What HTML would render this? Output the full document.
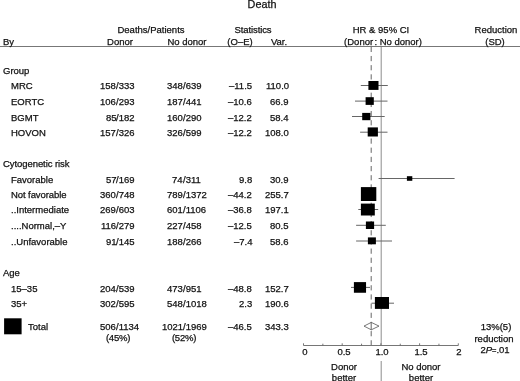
<!DOCTYPE html>
<html><head><meta charset="utf-8"><style>
html,body{margin:0;padding:0;background:#fff;}
body{-webkit-font-smoothing:antialiased;width:520px;height:381px;position:relative;overflow:hidden;font-family:"Liberation Sans",sans-serif;color:#111;-webkit-text-stroke:0.25px #111;}
.t{position:absolute;line-height:1;white-space:nowrap;will-change:transform;}
svg{position:absolute;left:0;top:0;}
.hl{stroke:#777;stroke-width:1;}
.ax{stroke:#666;stroke-width:0.9;}
.vl{stroke:#707070;stroke-width:0.8;}
.dl{stroke:#555;stroke-width:0.9;stroke-dasharray:5.2 3.97;}
.ci{stroke:#666;stroke-width:1;}
</style></head><body>
<svg width="520" height="381" viewBox="0 0 520 381">
<line x1="0" y1="46.5" x2="520" y2="46.5" class="hl"/>
<line x1="303.5" y1="345.5" x2="458.3" y2="345.5" class="ax"/>
<line x1="381.2" y1="46.5" x2="381.2" y2="345" class="vl"/>
<line x1="381.2" y1="361" x2="381.2" y2="381" class="vl"/>
<line x1="371.2" y1="46.8" x2="371.2" y2="345" class="dl"/>
<line x1="360.8" y1="85.5" x2="387.8" y2="85.5" class="ci"/>
<rect x="368.4" y="81.0" width="10.10" height="8.90" fill="#000"/>
<line x1="355.0" y1="101.1" x2="387.5" y2="101.1" class="ci"/>
<rect x="365.6" y="97.2" width="8.20" height="7.70" fill="#000"/>
<line x1="352.0" y1="116.5" x2="384.7" y2="116.5" class="ci"/>
<rect x="362.2" y="112.9" width="8.20" height="7.30" fill="#000"/>
<line x1="360.1" y1="132.2" x2="387.5" y2="132.2" class="ci"/>
<rect x="367.7" y="127.4" width="10.20" height="9.10" fill="#000"/>
<line x1="378.6" y1="178.5" x2="454.6" y2="178.5" class="ci"/>
<rect x="406.9" y="176.2" width="5.40" height="4.60" fill="#000"/>
<rect x="360.9" y="187.1" width="15.40" height="13.90" fill="#000"/>
<line x1="358.3" y1="209.5" x2="378.2" y2="209.5" class="ci"/>
<rect x="360.9" y="203.6" width="13.90" height="11.90" fill="#000"/>
<line x1="356.1" y1="225.3" x2="385.8" y2="225.3" class="ci"/>
<rect x="365.9" y="221.5" width="8.20" height="7.50" fill="#000"/>
<line x1="356.1" y1="241.0" x2="392.0" y2="241.0" class="ci"/>
<rect x="367.9" y="237.4" width="8.00" height="6.90" fill="#000"/>
<line x1="351.0" y1="287.4" x2="370.0" y2="287.4" class="ci"/>
<rect x="353.9" y="282.1" width="12.15" height="10.65" fill="#000"/>
<line x1="371.5" y1="303.2" x2="394.0" y2="303.2" class="ci"/>
<rect x="374.9" y="297.0" width="14.10" height="11.90" fill="#000"/>
<rect x="4.1" y="318.3" width="17.5" height="16" fill="#000"/>
<polygon points="364.0,326.1 371.3,322.4 379.0,326.1 371.3,329.8" fill="#fff" stroke="#555" stroke-width="0.8"/>
<line x1="371.2" y1="322.4" x2="371.2" y2="329.8" stroke="#555" stroke-width="0.9"/>
<line x1="303.50" y1="343.3" x2="303.50" y2="345.5" class="ax"/>
<line x1="322.85" y1="343.7" x2="322.85" y2="345.5" class="ax"/>
<line x1="342.20" y1="343.3" x2="342.20" y2="345.5" class="ax"/>
<line x1="361.55" y1="343.7" x2="361.55" y2="345.5" class="ax"/>
<line x1="380.90" y1="343.3" x2="380.90" y2="345.5" class="ax"/>
<line x1="400.25" y1="343.7" x2="400.25" y2="345.5" class="ax"/>
<line x1="419.60" y1="343.3" x2="419.60" y2="345.5" class="ax"/>
<line x1="438.95" y1="343.7" x2="438.95" y2="345.5" class="ax"/>
<line x1="458.30" y1="343.3" x2="458.30" y2="345.5" class="ax"/>
</svg>
<div class="t" style="left:161.90px;width:200px;top:-1.39px;font-size:10.8px;text-align:center;">Death</div>
<div class="t" style="left:51.15px;width:200px;top:24.66px;font-size:9.5px;text-align:center;">Deaths/Patients</div>
<div class="t" style="left:153.20px;width:200px;top:24.66px;font-size:9.5px;text-align:center;letter-spacing:-0.1px">Statistics</div>
<div class="t" style="left:281.00px;width:200px;top:24.66px;font-size:9.5px;text-align:center;">HR &amp; 95% CI</div>
<div class="t" style="left:395.60px;width:200px;top:24.66px;font-size:9.5px;text-align:center;">Reduction</div>
<div class="t" style="left:3.00px;top:36.76px;font-size:9.5px;">By</div>
<div class="t" style="left:19.50px;width:200px;top:36.76px;font-size:9.5px;text-align:center;">Donor</div>
<div class="t" style="left:86.50px;width:200px;top:36.76px;font-size:9.5px;text-align:center;">No donor</div>
<div class="t" style="left:139.50px;width:200px;top:36.76px;font-size:9.5px;text-align:center;">(O&ndash;E)</div>
<div class="t" style="left:179.40px;width:200px;top:36.76px;font-size:9.5px;text-align:center;">Var.</div>
<div class="t" style="left:282.50px;width:200px;top:36.76px;font-size:9.5px;text-align:center;">(Donor<span style="margin-left:-1.4px"> </span>: No donor)</div>
<div class="t" style="left:395.40px;width:200px;top:36.76px;font-size:9.5px;text-align:center;">(SD)</div>
<div class="t" style="left:3.20px;top:65.96px;font-size:9.5px;">Group</div>
<div class="t" style="left:11.00px;top:80.96px;font-size:9.5px;">MRC</div>
<div class="t" style="right:403.80px;top:80.96px;font-size:9.5px;text-align:right;">158</div><div class="t" style="left:116.20px;top:80.96px;font-size:9.5px;">/333</div>
<div class="t" style="right:337.00px;top:80.96px;font-size:9.5px;text-align:right;">348</div><div class="t" style="left:183.00px;top:80.96px;font-size:9.5px;">/639</div>
<div class="t" style="right:268.00px;top:80.96px;font-size:9.5px;text-align:right;">&ndash;11.5</div>
<div class="t" style="right:231.30px;top:80.96px;font-size:9.5px;text-align:right;">110.0</div>
<div class="t" style="left:11.00px;top:96.96px;font-size:9.5px;">EORTC</div>
<div class="t" style="right:403.80px;top:96.96px;font-size:9.5px;text-align:right;">106</div><div class="t" style="left:116.20px;top:96.96px;font-size:9.5px;">/293</div>
<div class="t" style="right:337.00px;top:96.96px;font-size:9.5px;text-align:right;">187</div><div class="t" style="left:183.00px;top:96.96px;font-size:9.5px;">/441</div>
<div class="t" style="right:268.00px;top:96.96px;font-size:9.5px;text-align:right;">&ndash;10.6</div>
<div class="t" style="right:231.30px;top:96.96px;font-size:9.5px;text-align:right;">66.9</div>
<div class="t" style="left:11.00px;top:112.96px;font-size:9.5px;">BGMT</div>
<div class="t" style="right:403.80px;top:112.96px;font-size:9.5px;text-align:right;">85</div><div class="t" style="left:116.20px;top:112.96px;font-size:9.5px;">/182</div>
<div class="t" style="right:337.00px;top:112.96px;font-size:9.5px;text-align:right;">160</div><div class="t" style="left:183.00px;top:112.96px;font-size:9.5px;">/290</div>
<div class="t" style="right:268.00px;top:112.96px;font-size:9.5px;text-align:right;">&ndash;12.2</div>
<div class="t" style="right:231.30px;top:112.96px;font-size:9.5px;text-align:right;">58.4</div>
<div class="t" style="left:11.00px;top:127.96px;font-size:9.5px;">HOVON</div>
<div class="t" style="right:403.80px;top:127.96px;font-size:9.5px;text-align:right;">157</div><div class="t" style="left:116.20px;top:127.96px;font-size:9.5px;">/326</div>
<div class="t" style="right:337.00px;top:127.96px;font-size:9.5px;text-align:right;">326</div><div class="t" style="left:183.00px;top:127.96px;font-size:9.5px;">/599</div>
<div class="t" style="right:268.00px;top:127.96px;font-size:9.5px;text-align:right;">&ndash;12.2</div>
<div class="t" style="right:231.30px;top:127.96px;font-size:9.5px;text-align:right;">108.0</div>
<div class="t" style="left:3.20px;top:158.96px;font-size:9.5px;letter-spacing:-0.07px">Cytogenetic risk</div>
<div class="t" style="left:11.00px;top:174.96px;font-size:9.5px;">Favorable</div>
<div class="t" style="right:403.80px;top:174.96px;font-size:9.5px;text-align:right;">57</div><div class="t" style="left:116.20px;top:174.96px;font-size:9.5px;">/169</div>
<div class="t" style="right:337.00px;top:174.96px;font-size:9.5px;text-align:right;">74</div><div class="t" style="left:183.00px;top:174.96px;font-size:9.5px;">/311</div>
<div class="t" style="right:268.00px;top:174.96px;font-size:9.5px;text-align:right;">9.8</div>
<div class="t" style="right:231.30px;top:174.96px;font-size:9.5px;text-align:right;">30.9</div>
<div class="t" style="left:11.00px;top:189.96px;font-size:9.5px;letter-spacing:-0.08px">Not favorable</div>
<div class="t" style="right:403.80px;top:189.96px;font-size:9.5px;text-align:right;">360</div><div class="t" style="left:116.20px;top:189.96px;font-size:9.5px;">/748</div>
<div class="t" style="right:337.00px;top:189.96px;font-size:9.5px;text-align:right;">789</div><div class="t" style="left:183.00px;top:189.96px;font-size:9.5px;">/1372</div>
<div class="t" style="right:268.00px;top:189.96px;font-size:9.5px;text-align:right;">&ndash;44.2</div>
<div class="t" style="right:231.30px;top:189.96px;font-size:9.5px;text-align:right;">255.7</div>
<div class="t" style="left:11.00px;top:204.96px;font-size:9.5px;">..Intermediate</div>
<div class="t" style="right:403.80px;top:204.96px;font-size:9.5px;text-align:right;">269</div><div class="t" style="left:116.20px;top:204.96px;font-size:9.5px;">/603</div>
<div class="t" style="right:337.00px;top:204.96px;font-size:9.5px;text-align:right;">601</div><div class="t" style="left:183.00px;top:204.96px;font-size:9.5px;">/1106</div>
<div class="t" style="right:268.00px;top:204.96px;font-size:9.5px;text-align:right;">&ndash;36.8</div>
<div class="t" style="right:231.30px;top:204.96px;font-size:9.5px;text-align:right;">197.1</div>
<div class="t" style="left:11.00px;top:220.96px;font-size:9.5px;">....Normal,&ndash;Y</div>
<div class="t" style="right:403.80px;top:220.96px;font-size:9.5px;text-align:right;">116</div><div class="t" style="left:116.20px;top:220.96px;font-size:9.5px;">/279</div>
<div class="t" style="right:337.00px;top:220.96px;font-size:9.5px;text-align:right;">227</div><div class="t" style="left:183.00px;top:220.96px;font-size:9.5px;">/458</div>
<div class="t" style="right:268.00px;top:220.96px;font-size:9.5px;text-align:right;">&ndash;12.5</div>
<div class="t" style="right:231.30px;top:220.96px;font-size:9.5px;text-align:right;">80.5</div>
<div class="t" style="left:11.00px;top:236.96px;font-size:9.5px;">..Unfavorable</div>
<div class="t" style="right:403.80px;top:236.96px;font-size:9.5px;text-align:right;">91</div><div class="t" style="left:116.20px;top:236.96px;font-size:9.5px;">/145</div>
<div class="t" style="right:337.00px;top:236.96px;font-size:9.5px;text-align:right;">188</div><div class="t" style="left:183.00px;top:236.96px;font-size:9.5px;">/266</div>
<div class="t" style="right:268.00px;top:236.96px;font-size:9.5px;text-align:right;">&ndash;7.4</div>
<div class="t" style="right:231.30px;top:236.96px;font-size:9.5px;text-align:right;">58.6</div>
<div class="t" style="left:3.20px;top:267.96px;font-size:9.5px;">Age</div>
<div class="t" style="left:11.00px;top:283.96px;font-size:9.5px;">15&ndash;35</div>
<div class="t" style="right:403.80px;top:283.96px;font-size:9.5px;text-align:right;">204</div><div class="t" style="left:116.20px;top:283.96px;font-size:9.5px;">/539</div>
<div class="t" style="right:337.00px;top:283.96px;font-size:9.5px;text-align:right;">473</div><div class="t" style="left:183.00px;top:283.96px;font-size:9.5px;">/951</div>
<div class="t" style="right:268.00px;top:283.96px;font-size:9.5px;text-align:right;">&ndash;48.8</div>
<div class="t" style="right:231.30px;top:283.96px;font-size:9.5px;text-align:right;">152.7</div>
<div class="t" style="left:11.00px;top:298.96px;font-size:9.5px;">35+</div>
<div class="t" style="right:403.80px;top:298.96px;font-size:9.5px;text-align:right;">302</div><div class="t" style="left:116.20px;top:298.96px;font-size:9.5px;">/595</div>
<div class="t" style="right:337.00px;top:298.96px;font-size:9.5px;text-align:right;">548</div><div class="t" style="left:183.00px;top:298.96px;font-size:9.5px;">/1018</div>
<div class="t" style="right:268.00px;top:298.96px;font-size:9.5px;text-align:right;">2.3</div>
<div class="t" style="right:231.30px;top:298.96px;font-size:9.5px;text-align:right;">190.6</div>
<div class="t" style="left:28.00px;top:321.96px;font-size:9.5px;">Total</div>
<div class="t" style="right:403.80px;top:321.96px;font-size:9.5px;text-align:right;">506</div><div class="t" style="left:116.20px;top:321.96px;font-size:9.5px;">/1134</div>
<div class="t" style="right:337.00px;top:321.96px;font-size:9.5px;text-align:right;">1021</div><div class="t" style="left:183.00px;top:321.96px;font-size:9.5px;">/1969</div>
<div class="t" style="left:17.60px;width:200px;top:333.46px;font-size:9.5px;text-align:center;letter-spacing:-0.25px">(45%)</div>
<div class="t" style="left:84.00px;width:200px;top:333.46px;font-size:9.5px;text-align:center;letter-spacing:-0.25px">(52%)</div>
<div class="t" style="right:268.00px;top:321.96px;font-size:9.5px;text-align:right;">&ndash;46.5</div>
<div class="t" style="right:231.30px;top:321.96px;font-size:9.5px;text-align:right;">343.3</div>
<div class="t" style="left:395.60px;width:200px;top:322.26px;font-size:9.5px;text-align:center;">13%(5)</div>
<div class="t" style="left:394.30px;width:200px;top:333.76px;font-size:9.5px;text-align:center;">reduction</div>
<div class="t" style="left:395.30px;width:200px;top:345.16px;font-size:9.5px;text-align:center;">2<i>P</i><span style="font-size:7.5px">=</span>.01</div>
<div class="t" style="left:205.20px;width:200px;top:347.26px;font-size:9.5px;text-align:center;">0</div>
<div class="t" style="left:243.60px;width:200px;top:347.26px;font-size:9.5px;text-align:center;">0.5</div>
<div class="t" style="left:282.00px;width:200px;top:347.26px;font-size:9.5px;text-align:center;">1.0</div>
<div class="t" style="left:321.10px;width:200px;top:347.26px;font-size:9.5px;text-align:center;">1.5</div>
<div class="t" style="left:359.20px;width:200px;top:347.26px;font-size:9.5px;text-align:center;">2</div>
<div class="t" style="left:244.00px;width:200px;top:361.56px;font-size:9.5px;text-align:center;">Donor</div>
<div class="t" style="left:244.00px;width:200px;top:372.96px;font-size:9.5px;text-align:center;">better</div>
<div class="t" style="left:321.00px;width:200px;top:361.56px;font-size:9.5px;text-align:center;">No donor</div>
<div class="t" style="left:321.00px;width:200px;top:372.96px;font-size:9.5px;text-align:center;">better</div>
</body></html>
